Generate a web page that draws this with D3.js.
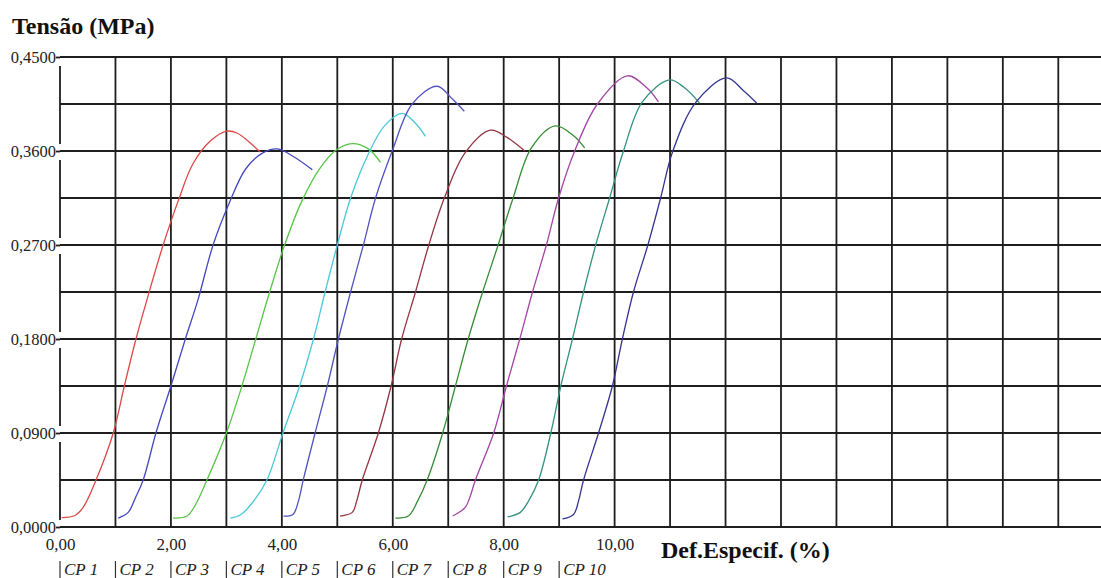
<!DOCTYPE html>
<html>
<head>
<meta charset="utf-8">
<script src="https://cdn.jsdelivr.net/npm/d3@7"></script>
<style>
  html, body { margin: 0; padding: 0; background: #fff; }
  svg { display: block; }
</style>
</head>
<body>
<div id="chart"></div>
<script>
// specimens
const categories = ["CP 1", "CP 2", "CP 3", "CP 4", "CP 5", "CP 6", "CP 7", "CP 8", "CP 9", "CP 10"];
const colors = ["#dc4848", "#4646c0", "#58c448", "#48c8d8", "#5252c0", "#943444", "#348c34", "#a444a4", "#34927e", "#343490"];

// [strain %, stress MPa]
const cp1 = [[0.03,0.009],[0.27,0.011],[0.42,0.019],[0.65,0.045],[0.96,0.09],[1.16,0.135],[1.37,0.18],[1.57,0.218],[1.86,0.27],[2.13,0.312],[2.4,0.348],[2.72,0.37],[3.01,0.379],[3.2,0.377],[3.4,0.369],[3.61,0.359]];
const cp2 = [[1.05,0.0086],[1.23,0.014],[1.36,0.028],[1.5,0.045],[1.73,0.09],[2.0,0.135],[2.26,0.18],[2.49,0.218],[2.76,0.27],[3.05,0.31],[3.35,0.343],[3.65,0.358],[3.92,0.362],[4.2,0.355],[4.55,0.342]];
const cp3 = [[2.04,0.0086],[2.29,0.0105],[2.45,0.022],[2.65,0.045],[3.0,0.09],[3.28,0.135],[3.53,0.18],[3.78,0.225],[4.05,0.27],[4.36,0.312],[4.68,0.343],[4.98,0.361],[5.27,0.367],[5.56,0.362],[5.78,0.349]];
const cp4 = [[3.07,0.0086],[3.25,0.0115],[3.45,0.022],[3.73,0.045],[4.02,0.09],[4.32,0.135],[4.57,0.18],[4.78,0.225],[5.0,0.27],[5.24,0.315],[5.55,0.356],[5.85,0.384],[6.17,0.396],[6.4,0.387],[6.59,0.374]];
const cp5 = [[4.03,0.0105],[4.2,0.012],[4.3,0.025],[4.39,0.046],[4.6,0.09],[4.82,0.135],[5.02,0.18],[5.24,0.225],[5.47,0.27],[5.69,0.315],[5.99,0.36],[6.35,0.405],[6.8,0.422],[7.07,0.41],[7.29,0.398]];
const cp6 = [[5.05,0.0105],[5.27,0.014],[5.35,0.025],[5.45,0.045],[5.74,0.09],[5.97,0.135],[6.16,0.18],[6.41,0.225],[6.65,0.27],[6.93,0.315],[7.3,0.358],[7.76,0.38],[8.06,0.373],[8.38,0.36]];
const cp7 = [[6.05,0.0086],[6.28,0.0105],[6.45,0.025],[6.62,0.045],[6.9,0.09],[7.13,0.135],[7.36,0.18],[7.62,0.225],[7.9,0.27],[8.17,0.315],[8.5,0.363],[8.93,0.384],[9.25,0.375],[9.46,0.363]];
const cp8 = [[7.08,0.0105],[7.31,0.019],[7.4,0.03],[7.49,0.045],[7.82,0.09],[8.05,0.135],[8.29,0.18],[8.52,0.225],[8.77,0.27],[8.99,0.315],[9.28,0.36],[9.69,0.405],[10.23,0.432],[10.59,0.42],[10.79,0.407]];
const cp9 = [[8.07,0.0096],[8.3,0.014],[8.45,0.025],[8.63,0.045],[8.85,0.09],[9.03,0.135],[9.24,0.18],[9.44,0.225],[9.66,0.27],[9.91,0.315],[10.16,0.36],[10.5,0.407],[10.99,0.428],[11.25,0.421],[11.53,0.406]];
const cp10 = [[9.06,0.0077],[9.26,0.012],[9.35,0.025],[9.44,0.045],[9.71,0.09],[9.96,0.135],[10.14,0.18],[10.34,0.225],[10.6,0.27],[10.83,0.315],[11.05,0.36],[11.47,0.407],[12.02,0.43],[12.32,0.418],[12.56,0.406]];
const series = [cp1, cp2, cp3, cp4, cp5, cp6, cp7, cp8, cp9, cp10];

const xTickValues = [0, 2, 4, 6, 8, 10];
const yTickValues = [0, 0.09, 0.18, 0.27, 0.36, 0.45];
const xGridValues = d3.range(1, 19);
const yGridValues = d3.range(0, 11).map(i => i * 0.045);

const width = 1101, height = 578;
const serif = "'Liberation Serif', 'Times New Roman', serif";

const svg = d3.select("#chart").append("svg")
    .attr("width", width)
    .attr("height", height);

const x = d3.scaleLinear().domain([0, 18.77]).range([60, width]);
const y = d3.scaleLinear().domain([0, 0.45]).range([527, 57]);

const br = d3.formatLocale({ decimal: ",", thousands: ".", grouping: [3], currency: ["", ""] });
const fmtY = br.format(".4f"), fmtX = br.format(".2f");

const gridColor = "#1e1e1e";

// grid
svg.append("g").selectAll("line").data(yGridValues).enter().append("line")
    .attr("x1", x(0)).attr("x2", width)
    .attr("y1", d => y(d)).attr("y2", d => y(d))
    .attr("stroke", gridColor).attr("stroke-width", 1.8);

svg.append("g").selectAll("line").data(xGridValues).enter().append("line")
    .attr("x1", d => x(d)).attr("x2", d => x(d))
    .attr("y1", y(0.45)).attr("y2", y(0))
    .attr("stroke", gridColor).attr("stroke-width", 1.8);

// left axis line, broken round the labelled ticks
const segs = d3.pairs(yTickValues);
svg.append("g").selectAll("line").data(segs).enter().append("line")
    .attr("x1", x(0)).attr("x2", x(0))
    .attr("y1", d => y(d[1]) + 9).attr("y2", d => y(d[0]) - 7)
    .attr("stroke", gridColor).attr("stroke-width", 1.8);

// y axis labels
const yAxis = svg.append("g")
    .attr("transform", `translate(${x(0)},0)`)
    .call(d3.axisLeft(y).tickValues(yTickValues).tickFormat(fmtY).tickSize(4).tickPadding(0));
yAxis.select(".domain").remove();
yAxis.selectAll(".tick line").attr("stroke", gridColor).attr("stroke-width", 1.8);
yAxis.selectAll("text").attr("font-family", serif).attr("font-size", 16.5).attr("fill", "#222");

// x axis labels
const xAxis = svg.append("g")
    .attr("transform", `translate(0,${y(0)})`)
    .call(d3.axisBottom(x).tickValues(xTickValues).tickFormat(fmtX).tickSize(0).tickPadding(11));
xAxis.select(".domain").remove();
xAxis.selectAll("text").attr("font-family", serif).attr("font-size", 17).attr("fill", "#222");

// curves
const line = d3.line().x(d => x(d[0])).y(d => y(d[1])).curve(d3.curveCatmullRom.alpha(0.5));
svg.append("g").selectAll("path").data(series).enter().append("path")
    .attr("d", line)
    .attr("fill", "none")
    .attr("stroke", (d, i) => colors[i])
    .attr("stroke-width", 1.3);

// titles
svg.append("text")
    .attr("x", 12).attr("y", 34)
    .attr("font-family", serif).attr("font-weight", "bold").attr("font-size", 24)
    .attr("fill", "#111")
    .text("Tensão (MPa)");

svg.append("text")
    .attr("x", 661).attr("y", 558)
    .attr("font-family", serif).attr("font-weight", "bold").attr("font-size", 24)
    .attr("fill", "#111")
    .text("Def.Especif. (%)");

// legend
const leg = svg.append("g").selectAll("g").data(categories).enter().append("g")
    .attr("transform", (d, i) => `translate(${x(i)},0)`);
leg.append("line")
    .attr("x1", 0).attr("x2", 0).attr("y1", 561).attr("y2", height)
    .attr("stroke", "#333").attr("stroke-width", 1.2);
leg.append("text")
    .attr("x", 4).attr("y", 575)
    .attr("font-family", serif).attr("font-style", "italic").attr("font-size", 17)
    .attr("fill", "#222")
    .text(d => d);
</script>
</body>
</html>
